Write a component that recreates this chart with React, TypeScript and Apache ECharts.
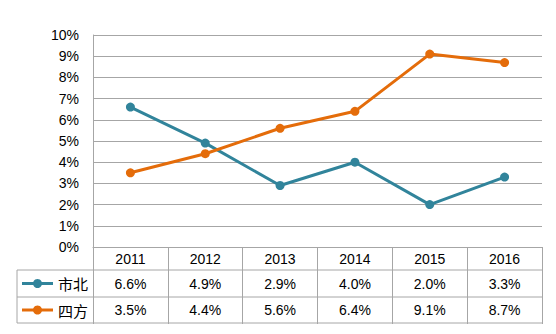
import React, { useEffect, useRef } from "react";
import * as echarts from "echarts";

const years = ["2011", "2012", "2013", "2014", "2015", "2016"];
const shibei = [6.6, 4.9, 2.9, 4.0, 2.0, 3.3];
const sifang = [3.5, 4.4, 5.6, 6.4, 9.1, 8.7];
const seriesNames = ["市北", "四方"];
const colors = ["#31849B", "#E46C0A"];

export default function App() {
  const ref = useRef<HTMLDivElement>(null);
  useEffect(() => {
    const chart = echarts.init(ref.current!, null, { renderer: "svg" });
    const font = "Liberation Sans";
    const lineGray = "#A6A6A6";
    chart.setOption({
      animation: false,
      backgroundColor: "#ffffff",
      grid: { left: 93, right: 14, top: 35, bottom: 87 },
      xAxis: {
        type: "category",
        data: years,
        boundaryGap: true,
        axisLine: { show: true, lineStyle: { color: lineGray, width: 1 } },
        axisTick: { show: true, length: 77, lineStyle: { color: lineGray, width: 1 } },
        axisLabel: { color: "#000", fontFamily: font, fontSize: 14, margin: 5 },
      },
      yAxis: {
        type: "value",
        min: 0,
        max: 10,
        interval: 1,
        axisLine: { show: true, lineStyle: { color: lineGray, width: 1 } },
        axisTick: { show: false },
        splitLine: { lineStyle: { color: lineGray, width: 1 } },
        axisLabel: {
          color: "#000",
          fontFamily: font,
          fontSize: 14,
          margin: 14,
          formatter: (v: number) => v + "%",
        },
      },
      series: [shibei, sifang].map((d, i) => ({
        name: seriesNames[i],
        type: "line",
        data: d,
        symbol: "circle",
        symbolSize: 9,
        color: colors[i],
        lineStyle: { width: 3, color: colors[i] },
        itemStyle: { color: colors[i] },
      })),
    });

    const rowTops = [270, 297, 323];
    const left = 17;
    const right = 542;
    const graphics: any[] = [];
    rowTops.forEach((y) => {
      graphics.push({
        type: "line",
        shape: { x1: left, y1: y, x2: right, y2: y },
        style: { stroke: lineGray, lineWidth: 1 },
      });
    });
    graphics.push({
      type: "line",
      shape: { x1: left, y1: 270, x2: left, y2: 323 },
      style: { stroke: lineGray, lineWidth: 1 },
    });
    const rowCenters = [283.5, 310];
    [shibei, sifang].forEach((d, r) => {
      const cy = rowCenters[r];
      graphics.push({
        type: "line",
        shape: { x1: 22, y1: cy, x2: 53, y2: cy },
        style: { stroke: colors[r], lineWidth: 3 },
      });
      graphics.push({
        type: "circle",
        shape: { cx: 37.5, cy, r: 4.5 },
        style: { fill: colors[r] },
      });
      graphics.push({
        type: "text",
        x: 58,
        y: cy,
        style: {
          text: seriesNames[r],
          font: '15px "Noto Sans CJK SC"',
          fill: "#000",
          verticalAlign: "middle",
        },
      });
      d.forEach((v, i) => {
        const px = chart.convertToPixel({ xAxisIndex: 0 }, years[i]) as number;
        graphics.push({
          type: "text",
          x: px,
          y: cy,
          style: {
            text: v.toFixed(1) + "%",
            font: `14px "${font}"`,
            fill: "#000",
            align: "center",
            verticalAlign: "middle",
          },
        });
      });
    });
    chart.setOption({ graphic: graphics });
    return () => chart.dispose();
  }, []);
  return <div ref={ref} style={{ width: 556, height: 334, position: "absolute", left: 0, top: 0 }} />;
}
